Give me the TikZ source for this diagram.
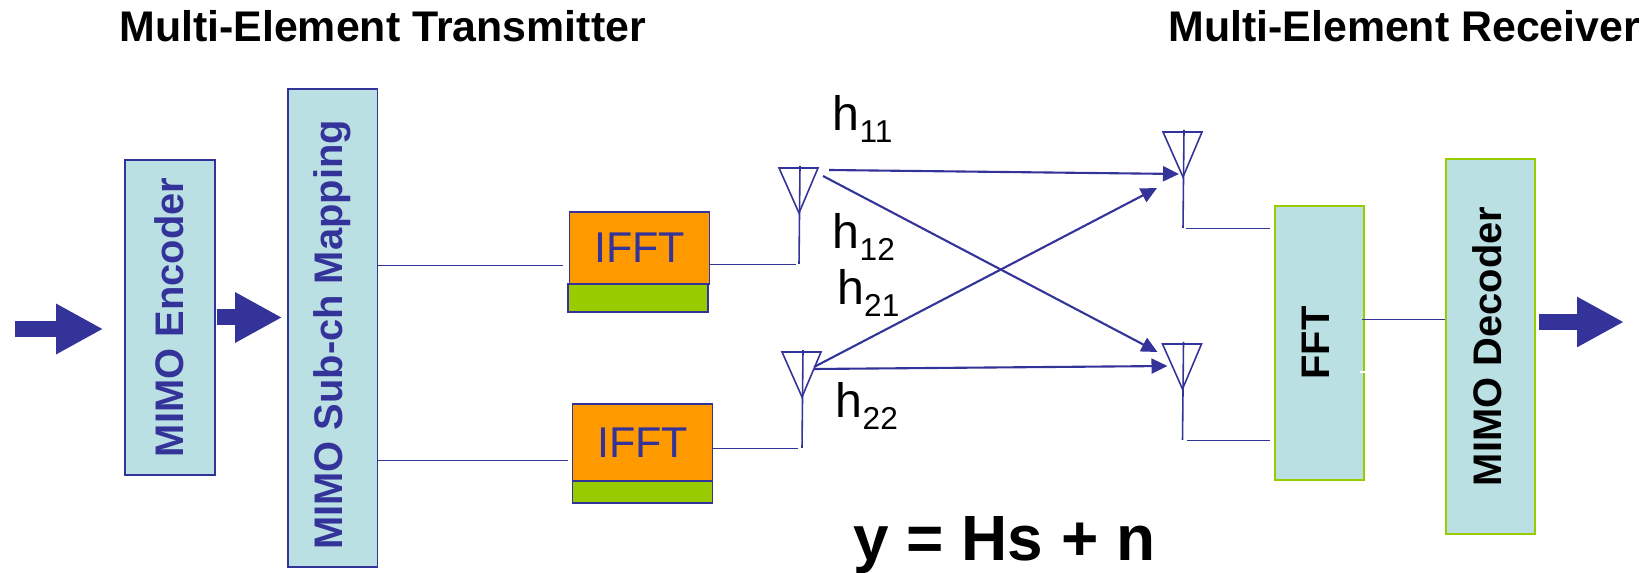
\documentclass[tikz,border=0pt]{standalone}
\usepackage{fontspec}
\setmainfont{Liberation Sans}
\usetikzlibrary{arrows.meta,calc}
\definecolor{linkblue}{HTML}{333399}
\definecolor{boxfill}{HTML}{BBE0E3}
\definecolor{ifftfill}{HTML}{FF9900}
\definecolor{limegreen}{HTML}{99CC00}
\tikzset{
    txblock/.style={draw=linkblue, fill=boxfill, line width=0.9pt, text=linkblue, font=\fontsize{22.7}{24}\bfseries, inner sep=0pt},
    rxblock/.style={draw=limegreen, fill=boxfill, line width=0.9pt, text=black, font=\fontsize{22.7}{24}\bfseries, inner sep=0pt},
    ifftblock/.style={draw=linkblue, fill=ifftfill, line width=0.9pt, text=linkblue, font=\fontsize{24.5}{26}\selectfont, inner sep=0pt, minimum width=2.8cm},
    cpblock/.style={draw=linkblue, fill=limegreen, line width=0.9pt, inner sep=0pt, minimum width=2.8cm},
    wire/.style={draw=linkblue, line width=0.5pt},
    antenna/.style={draw=linkblue, line width=0.9pt},
    channel/.style={draw=linkblue, line width=1.2pt, -{Triangle[length=0.32cm,width=0.3cm]}},
    fatarrow/.style={draw=linkblue, line width=0.32cm, -{Triangle[length=0.94cm,width=0.94cm]}},
    chlabel/.style={anchor=base west, inner sep=0pt, font=\fontsize{27.5}{29}\selectfont},
    heading/.style={anchor=base west, inner sep=0pt, font=\fontsize{24.4}{26}\bfseries}
}
\newcommand{\chsub}[1]{h\raisebox{-0.24cm}{\fontsize{18}{20}\selectfont #1}}
\newcommand{\vtext}[2]{\rotatebox{90}{\raisebox{#1}{#2}}}
\begin{document}
\begin{tikzpicture}[x=0.02cm, y=-0.02cm]
    \useasboundingbox (0,0) rectangle (1646,573);

    \node[heading] (txtitle) at (119,42) {Multi-Element Transmitter};
    \node[heading] (rxtitle) at (1168,42) {Multi-Element Receiver};

    \node[txblock, minimum width=1.8cm, minimum height=6.3cm] (enc) at (170,317.5) {\vtext{0.04cm}{MIMO Encoder}};
    \node[txblock, minimum width=1.79cm, minimum height=9.56cm] (map) at (332.75,328) {\vtext{0.04cm}{MIMO Sub-ch Mapping\hspace{0.28cm}}};
    \node[ifftblock, minimum height=1.44cm] (ifft1) at (639.5,248) {IFFT};
    \node[cpblock, minimum height=0.56cm] (cp1) at (638,298) {};
    \node[ifftblock, minimum height=1.54cm] (ifft2) at (642.5,442.5) {IFFT};
    \node[cpblock, minimum height=0.44cm] (cp2) at (642.5,492) {};
    \node[rxblock, minimum width=1.79cm, minimum height=5.48cm] (fft) at (1319.5,343) {\vtext{0.165cm}{FFT}};
    \node[rxblock, minimum width=1.79cm, minimum height=7.5cm] (dec) at (1490.5,346.5) {\vtext{0.145cm}{MIMO Decoder}};

    % antennas
    \foreach \n/\ax/\ay in {tx1/799/213, tx2/802/397, rx1/1183/177, rx2/1182.5/389}{
        \coordinate (\n) at (\ax,\ay);
        \draw[antenna, shift={(\ax,\ay)}] (-20,-45) -- (19,-45) -- (0,0) -- cycle;
        \draw[antenna, shift={(\ax,\ay)}] (1,-47) -- (0,51) coordinate (\n foot);
    }

    % big arrows
    \coordinate (datain) at (15,329);
    \coordinate (dataout) at (1624,322);
    \draw[fatarrow, shorten >=0.42cm] (datain) -- (datain -| enc.west);
    \draw[fatarrow, shorten <=0.02cm, shorten >=0.1cm] (enc.east) -- (enc.east -| map.west);
    \draw[fatarrow, shorten <=0.06cm] (dataout -| dec.east) -- (dataout);

    % wires
    \coordinate (m1) at (563,265);
    \coordinate (m2) at (568,460);
    \draw[wire] (m1 -| map.east) -- (m1);
    \draw[wire] (m2 -| map.east) -- (m2);
    \draw[wire, shorten >=0.06cm] (tx1foot -| ifft1.east) -- (tx1foot);
    \draw[wire, shorten >=0.09cm] (tx2foot -| ifft2.east) -- (tx2foot);
    \draw[wire, shorten <=0.06cm, shorten >=0.08cm] (rx1foot) -- (rx1foot -| fft.west);
    \draw[wire, shorten <=0.08cm, shorten >=0.08cm] (rx2foot) -- (rx2foot -| fft.west);
    \coordinate (f1) at (1362,319);
    \draw[wire] (f1) -- (f1 -| dec.west);
    \coordinate (f2) at (1360,372);
    \draw[white, line width=0.6pt] (f2) -- (f2 -| fft.east);

    % channels
    \draw[channel] ($(tx1)+(30,-43)$) -- ($(rx1)+(-4,-3)$);
    \draw[channel] ($(tx1)+(24,-37)$) -- ($(rx2)+(-25,-37)$);
    \draw[channel] ($(tx2)+(12,-30)$) -- ($(rx1)+(-26,11)$);
    \draw[channel] ($(tx2)+(12,-28)$) -- ($(rx2)+(-15,-23)$);

    \node[chlabel] (h11) at (832.5,131) {\chsub{11}};
    \node[chlabel] (h12) at (832.5,249) {\chsub{12}};
    \node[chlabel] (h21) at (837,305) {\chsub{21}};
    \node[chlabel] (h22) at (835.5,418) {\chsub{22}};

    \node[anchor=base west, inner sep=0pt, font=\fontsize{36.4}{38}\bfseries] (eqn) at (853,561) {y = Hs + n};
\end{tikzpicture}
\end{document}
